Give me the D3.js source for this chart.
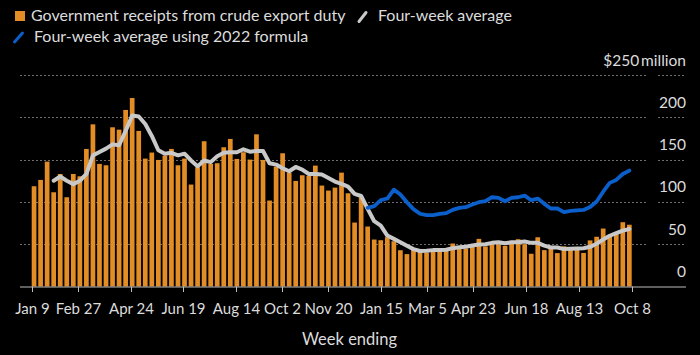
<!DOCTYPE html>
<html>
<head>
<meta charset="utf-8">
<script src="https://cdn.jsdelivr.net/npm/d3@7"></script>
<style>
  html, body { margin: 0; padding: 0; background: #000; }
  svg { display: block; }
  text { font-family: "Source Sans Pro", "Lato", "Noto Sans", sans-serif; fill: #dcdcdc; }
</style>
</head>
<body>
<svg id="chart" width="700" height="355"></svg>
<script>
// ---------- DATA ----------
const firstWeek = "2021-01-09";
const weekCount = 92;

// Government receipts from crude export duty, $ million (week ending)
const receipts = [
  118.5, 126, 147.6, 111.4, 133, 105.5, 133, 130.3, 162.6, 191.7,
  144.9, 143.3, 188.2, 185.4, 208.7, 222.8, 183.9, 151.2, 158.3, 149.6,
  154.7, 162.6, 143.3, 151.2, 120.5, 141, 171.7, 144.9, 145.7, 164.6,
  174.4, 150.8, 158.7, 150, 179.9, 149.6, 101.6, 141.7, 157.5, 134.6,
  124.8, 131.5, 130.7, 142.9, 119.3, 113.4, 116.9, 134.6, 110.2, 75.6,
  105.5, 70.9, 55.5, 54.7, 58.3, 53.5, 42.9, 38.3, 43.4, 41,
  40.2, 41, 42.2, 42.2, 50.8, 44.5, 44.9, 47.7, 56.3, 47.3,
  50.4, 50, 48, 53.9, 55.9, 50, 38.7, 58.2, 43, 46.1,
  39.5, 47.5, 44.5, 44.5, 39.7, 54.5, 58.8, 68.5, 60.5, 62.5,
  76, 73
];

// Four-week average (starts at 4th week)
const fourWeekAvg = [
  null, null, null, 125, 130, 125, 121, 125, 133, 155,
  159, 163, 168, 167, 184, 202, 201, 192, 178, 161,
  157, 158, 155, 157, 149, 142, 149, 147, 154, 158,
  158.7, 158.7, 162.2, 159.4, 160.2, 160.2, 145.7, 144.1, 139.8, 136.2,
  141.3, 138.2, 133, 133, 132.3, 128.3, 124, 121.3, 118.1, 109.4,
  107, 91.7, 77.2, 72, 60.2, 56.3, 52.4, 48.2, 44.2, 42,
  42.2, 43, 43, 43.4, 45.3, 46.5, 46.9, 48.4, 49.6, 50,
  51.6, 52.3, 51.2, 52.3, 52.3, 53.1, 51.6, 51.6, 48.4, 46.1,
  46.1, 44.2, 44.5, 44.9, 45.3, 46.9, 50.5, 55.5, 60, 63,
  66, 68
];

// Four-week average using 2022 formula (starts late Dec 2021)
const avg2022Formula = [
  null, null, null, null, null, null, null, null, null, null,
  null, null, null, null, null, null, null, null, null, null,
  null, null, null, null, null, null, null, null, null, null,
  null, null, null, null, null, null, null, null, null, null,
  null, null, null, null, null, null, null, null, null, null,
  null, 93, 95, 102, 104, 114.5, 108.7, 99.5, 91.5, 86,
  84.4, 84.4, 85.9, 86.7, 90.6, 93, 93.8, 96.9, 99.6, 100.8,
  105.5, 104.7, 100.8, 104.7, 105.5, 107.4, 102, 103.9, 97.7, 92.2,
  92.2, 88, 89.5, 90, 90.5, 94, 100.5, 112, 122.5, 126,
  133, 137
];

const xTickDates = ["2021-01-09","2021-02-27","2021-04-24","2021-06-19","2021-08-14","2021-10-02",
                    "2021-11-20","2022-01-15","2022-03-05","2022-04-23","2022-06-18","2022-08-13","2022-10-08"];
const xTickLabels = ["Jan 9","Feb 27","Apr 24","Jun 19","Aug 14","Oct 2",
                     "Nov 20","Jan 15","Mar 5","Apr 23","Jun 18","Aug 13","Oct 8"];
const yTicks = [0, 50, 100, 150, 200, 250];
const yTickLabels = ["0", "50", "100", "150", "200", "$250\u2009million"];

const legendLabels = ["Government receipts from crude export duty", "Four-week average", "Four-week average using 2022 formula"];

// ---------- CHART ----------
const colors = { bar: "#e28d25", avg: "#c9c9c9", blue: "#0b5fca", grid: "#6e6e6e", axis: "#bdbdbd", text: "#dcdcdc" };

const parse = d3.utcParse("%Y-%m-%d");
const start = parse(firstWeek);
const weeks = d3.range(weekCount).map(i => d3.utcDay.offset(start, 7 * i));

const svg = d3.select("#chart");
const plotLeft = 31.7, plotRight = 631.7;
const baseY = 286.5;

const xTime = d3.scaleUtc().domain([weeks[0], weeks[weeks.length - 1]]).range([plotLeft, plotRight]);
const xBand = d3.scaleBand().domain(weeks.map(d => +d)).range([plotLeft, plotRight]).paddingInner(0.28).paddingOuter(0);
const y = d3.scaleLinear().domain([0, 250]).range([baseY, 75]);

// grid lines
const grid = svg.append("g");
yTicks.filter(t => t > 0).forEach(t => {
  const gy = Math.round(y(t)) + 0.5;
  grid.append("line").attr("x1", 20).attr("x2", 648).attr("y1", gy).attr("y2", gy)
    .attr("stroke", colors.grid).attr("stroke-width", 1).attr("stroke-dasharray", "2,2");
  grid.append("line").attr("x1", 658).attr("x2", 686).attr("y1", gy).attr("y2", gy)
    .attr("stroke", colors.grid).attr("stroke-width", 1).attr("stroke-dasharray", "2,2");
});

// y labels
svg.append("g").selectAll("text").data(yTicks).join("text")
  .attr("x", 686).attr("y", d => y(d) - 9.5)
  .attr("text-anchor", "end").attr("font-size", 15.5)
  .text((d, i) => yTickLabels[i]);

// bars
svg.append("g").selectAll("rect").data(receipts).join("rect")
  .attr("x", (d, i) => xBand(+weeks[i]))
  .attr("width", xBand.bandwidth())
  .attr("y", d => y(d))
  .attr("height", d => baseY - y(d))
  .attr("fill", colors.bar);

// lines
const cx = i => xBand(+weeks[i]) + xBand.bandwidth() / 2;
const lineGen = d3.line().defined(d => d.v != null).x(d => cx(d.i)).y(d => y(d.v)).curve(d3.curveLinear);

svg.append("path").datum(fourWeekAvg.map((v, i) => ({ i, v })))
  .attr("d", lineGen).attr("fill", "none").attr("stroke", colors.avg)
  .attr("stroke-width", 4).attr("stroke-linejoin", "round").attr("stroke-linecap", "round");

svg.append("path").datum(avg2022Formula.map((v, i) => ({ i, v })))
  .attr("d", lineGen).attr("fill", "none").attr("stroke", colors.blue)
  .attr("stroke-width", 3.8).attr("stroke-linejoin", "round").attr("stroke-linecap", "round");

// x axis
const xAxis = svg.append("g");
xAxis.append("line").attr("x1", 20).attr("x2", 686).attr("y1", baseY + 0.5).attr("y2", baseY + 0.5)
  .attr("stroke", colors.axis).attr("stroke-width", 1);
xTickDates.forEach((ds, i) => {
  const xx = Math.round(xTime(parse(ds))) + 0.5;
  xAxis.append("line").attr("x1", xx).attr("x2", xx).attr("y1", baseY).attr("y2", baseY + 5.5)
    .attr("stroke", colors.axis).attr("stroke-width", 1);
  xAxis.append("text").attr("x", xx).attr("y", 314).attr("text-anchor", "middle").attr("font-size", 15)
    .text(xTickLabels[i]);
});
svg.append("text").attr("x", 349.5).attr("y", 345).attr("text-anchor", "middle").attr("font-size", 16.5).text("Week ending");

// legend
const lg = svg.append("g");
lg.append("rect").attr("x", 15).attr("y", 11).attr("width", 10).attr("height", 10).attr("fill", colors.bar);
lg.append("text").attr("x", 31).attr("y", 21).attr("font-size", 16).text(legendLabels[0]);
lg.append("line").attr("x1", 359).attr("y1", 21.5).attr("x2", 366).attr("y2", 12.5)
  .attr("stroke", colors.avg).attr("stroke-width", 3).attr("stroke-linecap", "round");
lg.append("text").attr("x", 378).attr("y", 21).attr("font-size", 16).text(legendLabels[1]);
lg.append("line").attr("x1", 14.5).attr("y1", 42).attr("x2", 22.5).attr("y2", 33)
  .attr("stroke", colors.blue).attr("stroke-width", 3).attr("stroke-linecap", "round");
lg.append("text").attr("x", 34).attr("y", 42).attr("font-size", 16).text(legendLabels[2]);
</script>
</body>
</html>
